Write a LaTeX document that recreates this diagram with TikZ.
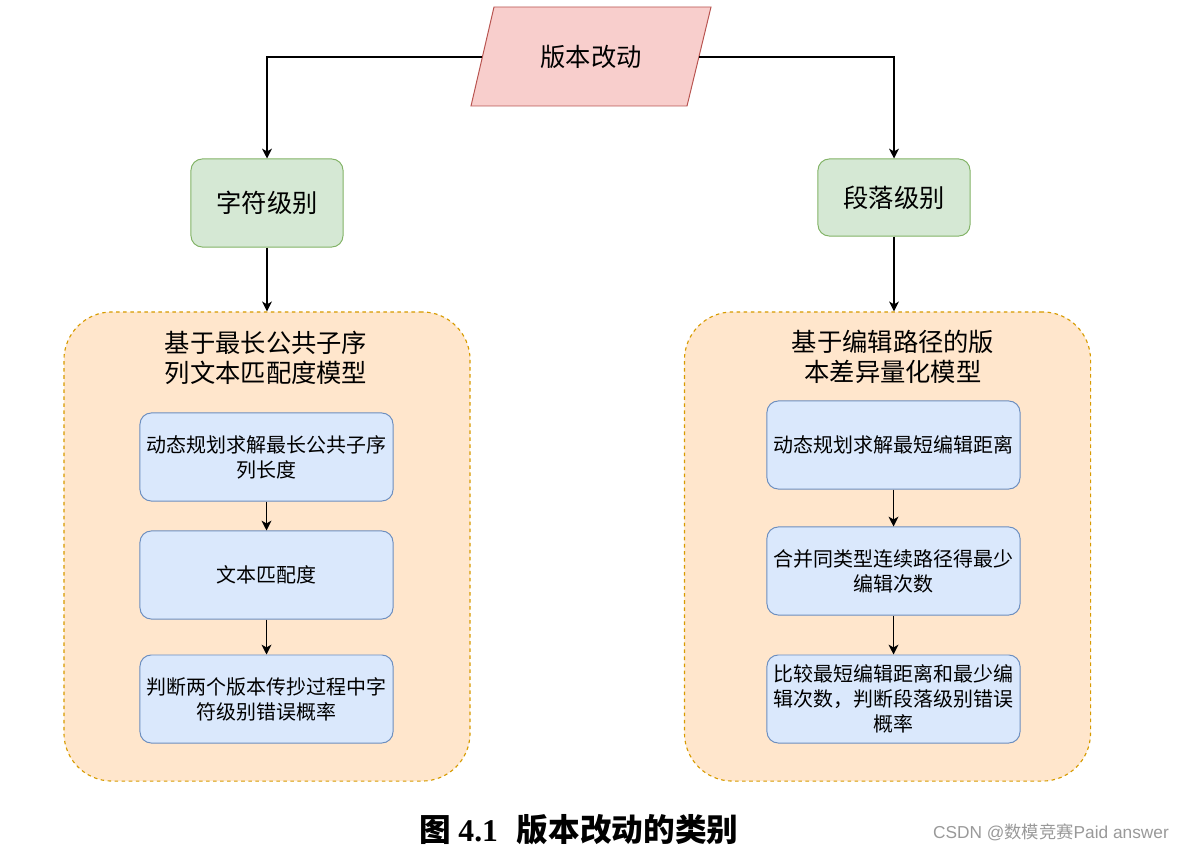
\documentclass[tikz,border=0pt]{standalone}
\usepackage{fontspec}
\setmainfont{Noto Sans CJK SC}
\newfontfamily\capnum{Liberation Serif}
\newfontfamily\wmfont{Liberation Sans}
\usetikzlibrary{arrows.meta}

\definecolor{pinkF}{HTML}{F8CECC}
\definecolor{pinkD}{HTML}{B85450}
\definecolor{grnF}{HTML}{D5E8D4}
\definecolor{grnD}{HTML}{82B366}
\definecolor{orgF}{HTML}{FFE6CC}
\definecolor{orgD}{HTML}{D79B00}
\definecolor{bluF}{HTML}{DAE8FC}
\definecolor{bluD}{HTML}{6C8EBF}

\begin{document}
\begin{tikzpicture}[
                x=0.025cm, y=-0.025cm,
                grn/.style={draw=grnD, fill=grnF, rounded corners=8pt, line width=0.7pt,
                    minimum width=3.8cm, font=\fontsize{18}{22}\selectfont},
                org/.style={draw=orgD, fill=orgF, dash pattern=on 2.5pt off 2.5pt,
                    rounded corners=1.2cm, line width=0.8pt,
                    minimum width=10.15cm, minimum height=11.725cm},
                ttl/.style={align=center, font=\fontsize{18}{21.5}\selectfont},
                blu/.style={draw=bluD, fill=bluF, rounded corners=8pt, line width=0.7pt,
                    minimum width=6.325cm, minimum height=2.2cm, align=center,
                    font=\fontsize{14.2}{17.8}\selectfont},
                arr/.style={line width=0.85pt, -{Stealth[length=7pt, width=7pt, inset=2pt]}} ]

            \useasboundingbox (0,0) rectangle (1184,853);

            % top parallelogram
            \filldraw[draw=pinkD, fill=pinkF, line width=0.7pt]
            (471,106) -- (494,7) -- (711,7) -- (687,106) -- cycle;
            \node[font=\fontsize{18}{22}\selectfont] (ver) at (591,57) {版本改动};
            \coordinate (verL) at (482,57);
            \coordinate (verR) at (699,57);

            % levels
            \node[grn, minimum height=2.2cm] (zf) at (267,203) {字符级别};
            \node[grn, minimum height=1.925cm] (pd) at (894,197.5) {段落级别};

            \draw[arr] (verL) -| (zf.north);
            \draw[arr] (verR) -| (pd.north);

            % model containers
            \node[org] (lcs) at (267,546.5) {};
            \node[org] (ed) at (887.5,546.5) {};
            \node[ttl] (lcsT) at (266,358) {基于最长公共子序\\列文本匹配度模型};
            \node[ttl] (edT) at (893,357) {基于编辑路径的版\\本差异量化模型};

            \draw[arr] (zf.south) -- (lcs.north);
            \draw[arr] (pd.south) -- (pd.south |- ed.north);

            % left steps
            \node[blu] (l1) at (266.5,457) {动态规划求解最长公共子序\\列长度};
            \node[blu] (l2) at (266.5,575) {文本匹配度};
            \node[blu] (l3) at (266.5,699) {判断两个版本传抄过程中字\\符级别错误概率};
            \draw[arr] (l1) -- (l2);
            \draw[arr] (l2) -- (l3);

            % right steps
            \node[blu] (r1) at (893.5,445) {动态规划求解最短编辑距离};
            \node[blu] (r2) at (893.5,571) {合并同类型连续路径得最少\\编辑次数};
            \node[blu] (r3) at (893.5,699) {比较最短编辑距离和最少编\\辑次数，判断段落级别错误\\概率};
            \draw[arr] (r1) -- (r2);
            \draw[arr] (r2) -- (r3);

            % caption
            \node[font=\fontsize{22.5}{26}\selectfont\bfseries] (cap) at (579,830)
            {图 {\capnum 4.1}\hspace{0.6em}版本改动的类别};
            \node[text=gray!80, font=\fontsize{12.3}{15}\selectfont] (wm) at (1051,832)
            {{\wmfont CSDN @}数模竞赛{\wmfont Paid answer}};
        \end{tikzpicture}
\end{document}
